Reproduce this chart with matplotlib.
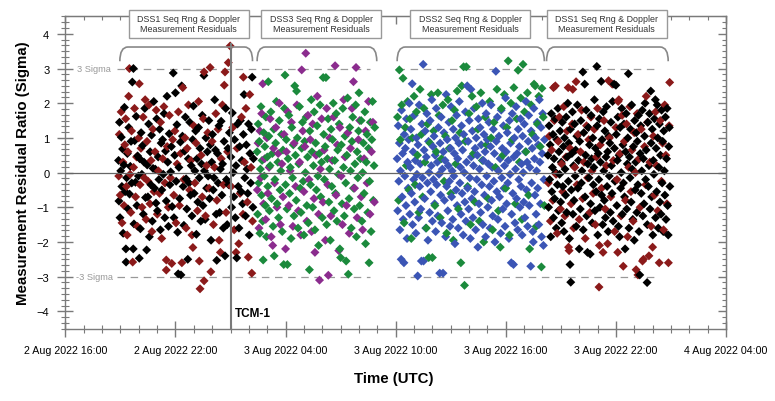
import numpy as np
import matplotlib.pyplot as plt
from matplotlib.patches import Rectangle, PathPatch
from matplotlib.path import Path
from matplotlib.ticker import MultipleLocator

plt.rcParams['font.family'] = ['Liberation Sans', 'DejaVu Sans']

# x values are hours since 2 Aug 2022 00:00 UTC
tick_hours = [16, 22, 28, 34, 40, 46, 52]
tick_labels = ["2 Aug 2022 16:00", "2 Aug 2022 22:00", "3 Aug 2022 04:00",
               "3 Aug 2022 10:00", "3 Aug 2022 16:00", "3 Aug 2022 22:00",
               "4 Aug 2022 04:00"]
tcm1_hour = 25.0

seg_names = ["DSS1 Seq Rng & Doppler\nMeasurement Residuals",
             "DSS3 Seq Rng & Doppler\nMeasurement Residuals",
             "DSS2 Seq Rng & Doppler\nMeasurement Residuals",
             "DSS1 Seq Rng & Doppler\nMeasurement Residuals"]
seg_start = [18.97, 26.45, 34.08, 42.22]
seg_end = [26.2, 32.97, 42.1, 48.85]
seg_label_center = [22.73, 29.94, 38.06, 45.5]
sigma_spans = [(18.8, 32.6), (34.05, 48.3)]

# (hour, residual sigma)
dss1a_black = [
    (18.90, 0.35), (18.92, -0.82), (18.95, 1.45), (18.98, -1.30), (19.02, 0.05), (19.05, 1.02), (19.08, -0.40),
    (19.12, 0.68), (19.15, -1.75), (19.19, 0.22), (19.22, 1.88), (19.26, -0.55), (19.30, -2.20), (19.31, -2.58),
    (19.34, -0.15), (19.38, 0.55), (19.42, -1.05), (19.46, 1.30), (19.50, -0.62), (19.54, 0.18), (19.58, 0.90),
    (19.62, -0.30), (19.65, 2.61), (19.70, -2.20), (19.71, 3.00), (19.74, -1.48), (19.78, 0.92), (19.82, -0.28),
    (19.86, 1.62), (19.90, -0.95), (19.94, 0.48), (19.98, -0.10), (20.03, -2.47), (20.05, 0.40), (20.09, -1.62),
    (20.13, 1.15), (20.17, -0.05), (20.21, 0.78), (20.25, -1.20), (20.29, 0.30), (20.33, 1.85), (20.37, -0.72),
    (20.43, -2.23), (20.46, 0.22), (20.50, -0.70), (20.54, 1.40), (20.58, -1.85), (20.62, 0.60), (20.66, -0.35),
    (20.70, 1.08), (20.74, -1.40), (20.78, 0.12), (20.82, 2.05), (20.86, -0.45), (20.90, 0.10), (20.94, -0.88),
    (20.98, 1.55), (21.02, -1.10), (21.06, 0.45), (21.10, -0.20), (21.14, 1.25), (21.18, -1.65), (21.22, 0.85),
    (21.26, -0.50), (21.30, 0.95), (21.34, -0.05), (21.38, 1.70), (21.42, -1.30), (21.46, 0.62), (21.50, -0.82),
    (21.54, 2.20), (21.58, 0.30), (21.62, -1.55), (21.66, 1.12), (21.70, -0.35), (21.74, 0.02), (21.78, 0.75),
    (21.82, -0.98), (21.88, 2.87), (21.92, -1.30), (21.96, 0.50), (22.00, 2.30), (22.04, -0.25), (22.08, 1.38),
    (22.12, -1.72), (22.15, -2.92), (22.19, 0.15), (22.23, -0.75), (22.27, 0.88), (22.30, -2.95), (22.34, 2.50),
    (22.38, 1.05), (22.42, -0.40), (22.46, -1.52), (22.50, 0.62), (22.54, 1.60), (22.58, -0.18), (22.62, -1.05),
    (22.67, -2.50), (22.70, 0.40), (22.74, -0.30), (22.78, 1.45), (22.82, -0.65), (22.86, 0.20), (22.90, -1.25),
    (22.94, 0.95), (22.98, 1.92), (23.02, -0.60), (23.06, 0.05), (23.10, 1.20), (23.14, -1.78), (23.18, 0.40),
    (23.22, -0.85), (23.26, 1.30), (23.30, -0.15), (23.34, 0.70), (23.38, -1.40), (23.42, 0.25), (23.46, 1.65),
    (23.50, -0.95), (23.55, 2.80), (23.58, 0.05), (23.62, -1.35), (23.66, 1.00), (23.70, -0.45), (23.74, 0.60),
    (23.78, -0.10), (23.82, 1.50), (23.86, -0.75), (23.90, 0.80), (23.94, -1.95), (23.98, 0.30), (24.02, 1.10),
    (24.06, -0.50), (24.10, -0.15), (24.14, 2.10), (24.18, 0.65), (24.22, -1.20), (24.25, -2.53), (24.29, 0.55),
    (24.33, -0.30), (24.37, 1.35), (24.41, -1.15), (24.45, 0.10), (24.49, 1.48), (24.53, -0.65), (24.57, 0.25),
    (24.61, -1.60), (24.65, 0.90), (24.70, -2.40), (24.74, 1.85), (24.78, -0.20), (24.82, -1.50), (24.86, 0.70),
    (24.90, -0.35), (24.94, 1.15), (25.02, 0.45), (25.06, -1.00), (25.10, 1.72), (25.14, 0.00), (25.18, -0.70),
    (25.22, 0.95), (25.26, -1.30), (25.30, 0.20), (25.34, -2.46), (25.38, 1.40), (25.42, -0.40), (25.46, -1.60),
    (25.50, 0.75), (25.54, 1.50), (25.58, -0.55), (25.62, 0.35), (25.66, -0.90), (25.70, 1.10), (25.74, 2.25),
    (25.78, -0.15), (25.82, -1.25), (25.86, 0.80), (25.90, 0.10), (25.94, -0.60), (25.98, 1.40), (26.02, -1.80),
    (26.06, 0.55), (26.10, -0.30), (26.14, 1.25), (26.18, 2.75), (26.22, -1.00), (26.25, 0.40),
]
dss1a_red = [
    (18.91, -0.10), (18.94, 1.10), (18.99, -0.65), (19.04, 1.75), (19.09, -1.45), (19.14, 0.30), (19.20, -0.95),
    (19.24, 0.80), (19.29, 1.55), (19.33, -0.40), (19.37, -1.80), (19.41, 0.60), (19.45, 2.20), (19.49, 3.00),
    (19.53, -0.05), (19.57, -1.15), (19.61, 1.20), (19.67, -2.58), (19.72, 0.15), (19.77, 1.85), (19.83, -0.70),
    (19.88, 0.45), (19.93, -1.55), (20.00, 1.00), (20.03, 2.56), (20.07, -0.35), (20.12, 0.70), (20.18, -1.00),
    (20.24, 1.60), (20.30, -0.15), (20.35, 2.10), (20.40, -1.35), (20.45, 0.90), (20.51, -0.25), (20.56, 1.95),
    (20.61, -0.90), (20.67, 0.35), (20.72, -1.70), (20.77, 1.25), (20.83, -0.55), (20.89, 0.60), (20.95, 1.80),
    (21.01, -1.20), (21.07, 0.05), (21.13, -0.60), (21.19, 1.45), (21.25, -1.90), (21.31, 0.40), (21.37, 1.90),
    (21.43, -0.30), (21.50, -2.52), (21.50, -2.81), (21.55, 0.75), (21.61, -1.00), (21.67, 1.65), (21.73, -0.15),
    (21.80, -2.62), (21.85, 0.95), (21.91, -0.65), (21.97, 1.20), (22.03, -1.45), (22.09, 0.25), (22.16, 1.75),
    (22.22, -0.95), (22.28, 0.55), (22.35, -2.60), (22.40, 2.45), (22.45, -0.20), (22.52, 1.00), (22.58, -1.60),
    (22.64, 0.70), (22.71, 1.95), (22.77, -0.50), (22.84, 0.35), (22.90, -1.80), (22.95, -2.16), (23.00, 1.35),
    (23.06, -0.30), (23.12, 0.85), (23.20, -1.10), (23.26, 2.05), (23.30, -2.55), (23.34, -3.35), (23.40, 0.50),
    (23.46, -0.70), (23.52, 1.55), (23.56, 2.90), (23.56, -3.12), (23.64, -1.25), (23.70, 0.20), (23.76, 1.15),
    (23.84, -0.45), (23.89, 3.03), (23.93, -2.86), (24.00, 0.90), (24.07, -1.50), (24.13, 0.15), (24.20, 1.70),
    (24.26, -0.80), (24.32, 1.25), (24.38, -1.95), (24.45, -2.30), (24.50, 0.40), (24.56, 1.95), (24.62, -0.35),
    (24.66, 2.52), (24.70, 2.90), (24.76, -1.15), (24.84, 0.60), (24.88, 3.17), (24.98, 3.65), (25.04, -0.40),
    (25.12, 1.30), (25.20, -1.65), (25.30, -2.30), (25.36, 0.70), (25.45, -2.05), (25.52, -0.60), (25.60, 1.60),
    (25.68, -1.20), (25.70, 2.75), (25.76, 0.30), (25.84, 1.85), (25.92, -0.85), (25.97, -2.44), (26.05, 2.25),
    (26.12, 0.15), (26.16, -2.90), (26.20, -1.40),
]
dss3_green = [
    (26.45, 0.60), (26.48, -1.20), (26.51, 1.40), (26.54, -0.30), (26.57, 0.90), (26.60, -1.75), (26.63, 0.10),
    (26.66, 1.90), (26.69, -0.65), (26.72, 0.35), (26.75, -1.40), (26.78, -2.52), (26.81, 1.15), (26.84, -0.10),
    (26.87, 0.75), (26.90, -0.95), (26.93, 1.60), (26.96, -1.85), (27.00, 0.45), (27.03, -0.40), (27.06, 2.62),
    (27.09, 1.05), (27.12, -1.10), (27.16, 0.20), (27.20, 1.75), (27.24, -0.75), (27.28, 0.55), (27.32, -1.55),
    (27.36, 1.25), (27.38, -2.40), (27.42, -0.20), (27.46, 0.85), (27.50, 2.05), (27.54, -0.90), (27.58, 0.30),
    (27.62, -1.30), (27.66, 1.50), (27.70, -0.50), (27.74, 0.05), (27.78, 1.10), (27.82, -1.70), (27.86, 0.65),
    (27.90, -2.65), (27.94, 1.85), (27.97, 2.81), (28.00, -0.35), (28.04, 0.95), (28.08, -1.05), (28.10, -2.65),
    (28.14, 0.40), (28.18, 1.65), (28.22, -0.60), (28.26, 0.15), (28.30, -1.90), (28.34, 1.30), (28.38, -0.15),
    (28.42, 0.80), (28.46, -1.25), (28.50, 2.50), (28.54, 0.50), (28.58, -0.80), (28.60, 2.35), (28.64, 1.00),
    (28.68, -1.60), (28.72, 0.25), (28.76, 1.90), (28.80, -0.45), (28.84, -1.15), (28.88, 0.70), (28.92, 1.45),
    (28.96, -0.25), (29.00, -1.80), (29.04, 0.90), (29.08, 0.00), (29.12, 1.60), (29.16, -0.95), (29.20, 0.45),
    (29.24, -1.45), (29.30, -2.80), (29.32, 1.20), (29.36, -0.35), (29.40, 2.10), (29.44, 0.60), (29.48, -1.00),
    (29.52, 0.20), (29.56, 1.75), (29.60, -1.65), (29.64, 0.85), (29.68, -0.50), (29.72, 1.35), (29.76, -0.10),
    (29.80, -2.10), (29.84, 0.55), (29.88, 1.95), (29.92, -0.70), (29.96, 0.30), (30.00, -1.30), (30.05, 2.74),
    (30.08, 1.10), (30.12, -0.20), (30.16, 0.75), (30.20, 2.74), (30.24, -1.50), (30.28, 0.40), (30.32, 1.55),
    (30.36, -0.85), (30.40, 0.10), (30.44, -1.95), (30.48, 1.25), (30.52, -0.40), (30.56, 0.95), (30.60, 2.00),
    (30.64, -1.10), (30.68, 0.35), (30.72, -0.60), (30.76, 1.70), (30.80, -1.40), (30.84, 0.65), (30.88, -0.05),
    (30.92, 1.40), (30.96, -2.20), (31.00, -2.45), (31.04, 0.80), (31.08, -0.90), (31.12, 1.85), (31.16, 0.15),
    (31.20, -1.25), (31.24, 1.05), (31.28, -0.30), (31.30, -2.55), (31.34, 0.50), (31.38, 2.15), (31.42, -2.93),
    (31.46, -0.75), (31.50, 1.30), (31.54, 0.05), (31.58, -1.60), (31.62, 0.90), (31.66, 1.60), (31.70, -0.45),
    (31.74, -1.05), (31.78, 0.25), (31.82, 1.95), (31.86, -1.85), (31.90, 0.60), (31.94, -0.15), (31.98, 1.20),
    (32.00, 2.30), (32.04, -0.95), (32.08, 0.40), (32.12, 1.50), (32.16, -1.40), (32.20, 0.00), (32.24, 0.85),
    (32.28, -0.60), (32.32, 1.75), (32.36, -2.05), (32.40, 0.30), (32.44, 1.10), (32.48, -1.15), (32.52, 0.70),
    (32.55, -2.60), (32.58, -0.25), (32.62, 1.45), (32.66, -1.70), (32.70, 0.95), (32.74, 2.05), (32.78, -0.80),
    (32.82, 0.20), (32.86, 1.30),
]
dss3_purple = [
    (26.46, -0.50), (26.50, 0.85), (26.55, -1.60), (26.60, 1.20), (26.65, -0.15), (26.70, 1.70), (26.76, 2.56),
    (26.80, -0.90), (26.86, 0.40), (26.92, -1.35), (26.98, 1.00), (27.04, -0.60), (27.10, 0.15), (27.16, 1.55),
    (27.22, -1.85), (27.30, -2.10), (27.34, 0.70), (27.40, -0.30), (27.47, 1.30), (27.53, -1.00), (27.60, 0.55),
    (27.66, 2.00), (27.72, -1.50), (27.80, 0.25), (27.86, -0.70), (27.92, 1.10), (28.00, -2.20), (28.05, 0.60),
    (28.12, 1.75), (28.18, -0.95), (28.25, 0.05), (28.32, 1.45), (28.40, -1.55), (28.47, 0.85), (28.55, -0.40),
    (28.62, 1.95), (28.70, -1.10), (28.77, 0.30), (28.83, -1.80), (28.88, 2.96), (28.94, 1.20), (29.00, -0.55),
    (29.05, 0.75), (29.10, 3.44), (29.16, -1.40), (29.22, 1.65), (29.28, -0.20), (29.35, 0.95), (29.42, -1.70),
    (29.48, 1.40), (29.55, -0.75), (29.60, -2.30), (29.66, 0.50), (29.73, 2.20), (29.80, -1.20), (29.85, -3.10),
    (29.90, 0.10), (29.97, 1.55), (30.04, -0.85), (30.10, 0.65), (30.17, -1.95), (30.24, 1.85), (30.30, -0.35),
    (30.33, -2.96), (30.40, 1.00), (30.47, -1.25), (30.54, 0.35), (30.62, 1.60), (30.70, 3.08), (30.75, -0.65),
    (30.82, 0.80), (30.90, -2.25), (30.96, 1.30), (31.03, -0.10), (31.10, -1.50), (31.17, 2.10), (31.24, 0.45),
    (31.32, -0.95), (31.40, 1.15), (31.47, -1.75), (31.54, 0.70), (31.62, 1.85), (31.70, 2.62), (31.76, -0.45),
    (31.84, 3.03), (31.90, -1.30), (31.97, 0.95), (32.04, 1.50), (32.12, -0.70), (32.20, -1.65), (32.28, 0.40),
    (32.36, 1.20), (32.44, -0.30), (32.52, 2.05), (32.60, -1.20), (32.68, 0.60), (32.76, 1.45), (32.84, -0.85),
]
dss2_blue = [
    (34.08, 0.40), (34.11, -1.10), (34.14, 1.35), (34.17, -0.25), (34.20, 0.85), (34.23, -1.65), (34.26, 0.05),
    (34.30, -2.50), (34.32, 1.80), (34.35, -0.70), (34.38, 0.55), (34.41, -1.35), (34.45, -2.60), (34.47, 1.10),
    (34.50, -0.10), (34.53, 0.70), (34.56, -0.95), (34.59, 1.55), (34.62, -1.90), (34.65, 0.30), (34.68, -0.45),
    (34.71, 0.95), (34.74, 2.00), (34.77, -1.20), (34.80, 0.15), (34.83, 1.25), (34.86, -0.60), (34.90, 2.56),
    (34.92, -1.50), (34.95, 0.60), (34.98, -0.20), (35.01, 1.65), (35.04, -0.85), (35.07, 0.35), (35.10, -1.75),
    (35.13, 1.00), (35.16, -0.05), (35.20, -2.98), (35.22, 0.80), (35.25, -1.30), (35.28, 1.95), (35.31, -0.40),
    (35.34, 0.25), (35.37, -1.05), (35.40, -2.55), (35.43, 1.40), (35.46, -0.15), (35.50, 3.12), (35.52, -2.55),
    (35.55, 0.65), (35.58, -0.75), (35.61, 1.20), (35.64, -1.60), (35.67, 0.45), (35.70, 1.70), (35.73, -0.30),
    (35.76, -1.95), (35.79, 0.90), (35.82, 0.00), (35.85, -1.15), (35.88, 1.50), (35.91, -0.55), (35.94, 0.20),
    (35.97, 2.10), (36.00, -1.40), (36.03, 0.75), (36.06, -0.20), (36.09, 1.05), (36.12, -0.90), (36.15, 0.50),
    (36.18, -1.70), (36.21, 1.85), (36.24, -0.35), (36.27, 0.30), (36.30, -1.25), (36.33, 1.30), (36.36, -0.05),
    (36.40, -2.90), (36.42, 0.85), (36.45, -0.65), (36.48, 1.60), (36.51, -1.45), (36.54, 0.10), (36.58, -2.90),
    (36.60, 0.60), (36.63, 1.15), (36.66, -0.80), (36.69, 0.35), (36.72, -1.85), (36.75, 2.25), (36.78, -0.40),
    (36.81, 0.95), (36.84, -1.10), (36.87, 0.20), (36.90, 1.45), (36.93, -0.25), (36.96, -1.55), (36.99, 0.70),
    (37.02, 1.90), (37.05, -0.70), (37.08, 0.05), (37.11, -1.35), (37.14, 1.25), (37.17, -0.10), (37.20, 0.55),
    (37.23, -2.05), (37.26, 1.00), (37.29, -0.50), (37.32, 1.65), (37.35, -0.95), (37.38, 0.40), (37.41, -1.60),
    (37.44, 0.85), (37.47, 2.05), (37.50, -0.30), (37.53, 0.15), (37.56, -1.20), (37.59, 1.35), (37.62, -0.60),
    (37.65, 0.65), (37.68, -1.80), (37.71, 1.10), (37.74, 0.00), (37.77, -0.85), (37.80, 1.75), (37.83, -1.40),
    (37.86, 0.30), (37.90, 2.50), (37.92, -0.45), (37.95, 0.90), (37.98, -1.05), (38.01, 1.50), (38.04, -0.15),
    (38.07, -1.90), (38.10, 2.40), (38.12, 0.45), (38.15, -0.75), (38.18, 1.20), (38.21, -1.30), (38.24, 0.20),
    (38.27, 1.85), (38.30, -0.55), (38.33, 0.70), (38.36, -1.65), (38.39, 1.00), (38.42, -0.20), (38.45, 0.50),
    (38.48, -2.15), (38.51, 1.55), (38.54, -0.90), (38.57, 0.10), (38.60, 1.30), (38.63, -1.15), (38.66, 0.80),
    (38.69, -0.35), (38.72, 2.00), (38.75, -1.50), (38.78, 0.35), (38.81, 1.10), (38.84, -0.65), (38.87, 0.60),
    (38.90, -1.85), (38.93, 1.70), (38.96, -0.10), (38.99, 0.95), (39.02, -1.00), (39.05, 0.25), (39.08, 1.45),
    (39.11, -0.40), (39.14, -1.60), (39.17, 0.75), (39.20, 1.95), (39.23, -0.80), (39.26, 0.15), (39.29, -1.25),
    (39.32, 1.25), (39.35, -0.25), (39.38, 0.55), (39.41, -2.00), (39.46, 2.92), (39.48, 0.90), (39.51, -0.55),
    (39.54, 1.60), (39.57, -1.35), (39.60, 0.05), (39.63, 1.05), (39.66, -0.70), (39.69, 0.40), (39.72, -1.75),
    (39.75, 1.80), (39.78, -0.15), (39.81, 0.70), (39.84, -1.05), (39.87, 1.35), (39.90, -0.45), (39.93, 0.20),
    (39.96, -1.55), (39.99, 2.15), (40.02, 0.60), (40.05, -0.90), (40.08, 1.15), (40.11, -0.30), (40.14, 0.35),
    (40.17, -1.90), (40.20, 1.50), (40.23, -0.05), (40.26, 0.85), (40.30, -2.60), (40.32, -1.20), (40.35, 1.70),
    (40.38, -0.60), (40.42, -2.65), (40.44, 0.45), (40.47, 1.00), (40.50, -1.45), (40.53, 0.10), (40.56, 1.90),
    (40.59, -0.75), (40.62, 0.55), (40.65, -1.65), (40.68, 1.25), (40.71, -0.20), (40.74, 0.75), (40.77, -1.00),
    (40.80, 1.55), (40.83, -0.40), (40.86, 0.25), (40.89, -1.80), (40.92, 1.05), (40.95, 0.00), (40.98, -0.85),
    (41.01, 1.40), (41.04, -1.30), (41.07, 0.60), (41.10, 2.05), (41.13, -0.50), (41.16, 0.30), (41.19, -1.55),
    (41.22, 0.90), (41.25, 1.65), (41.28, -0.95), (41.31, 0.15), (41.36, -2.70), (41.38, 1.20), (41.41, -0.30),
    (41.44, 0.70), (41.47, -1.70), (41.50, -2.00), (41.53, 1.85), (41.56, 0.40), (41.59, -0.65), (41.62, 1.00),
    (41.65, -1.20), (41.68, 0.05), (41.71, 1.45), (41.74, -0.45), (41.77, 0.80), (41.80, -1.50), (41.83, 2.10),
    (41.86, 0.30), (41.89, -0.90), (41.92, 1.30), (41.95, -1.85), (41.98, 0.55), (42.01, 1.70), (42.05, -2.10),
    (42.08, -0.20), (42.11, 0.95),
]
dss2_green = [
    (34.10, 1.60), (34.16, -0.80), (34.20, 2.96), (34.26, 0.95), (34.33, 1.95), (34.40, 2.72), (34.46, -1.45),
    (34.52, 1.30), (34.58, 0.20), (34.65, 2.05), (34.72, -0.50), (34.78, 1.55), (34.85, -1.90), (34.91, 1.00),
    (35.00, 2.20), (35.06, -0.35), (35.13, 1.75), (35.19, 0.50), (35.26, -1.15), (35.33, 2.40), (35.40, 1.10),
    (35.47, -0.70), (35.54, 1.85), (35.60, 0.30), (35.67, -1.60), (35.74, 1.40), (35.80, -2.45), (35.87, 0.85),
    (35.94, 2.25), (36.00, -2.45), (36.07, 1.20), (36.14, -0.95), (36.21, 0.60), (36.30, 2.30), (36.36, 1.65),
    (36.43, -1.30), (36.50, 0.40), (36.57, 1.95), (36.64, -0.25), (36.71, 1.05), (36.78, -1.75), (36.85, 2.10),
    (36.92, 0.70), (37.00, -0.60), (37.07, 1.50), (37.14, -1.95), (37.21, 1.80), (37.28, 0.25), (37.35, 2.35),
    (37.42, -1.05), (37.50, 1.15), (37.55, -2.60), (37.60, 2.50), (37.70, 3.05), (37.75, -3.25), (37.80, 0.90),
    (37.85, 3.05), (37.92, -0.40), (38.00, 1.70), (38.08, -1.50), (38.16, 2.20), (38.24, 0.55), (38.32, -0.85),
    (38.40, 1.90), (38.48, 1.25), (38.56, -1.40), (38.64, 2.30), (38.72, 0.35), (38.80, -2.00), (38.88, 1.60),
    (38.96, 0.80), (39.04, -0.75), (39.12, 2.05), (39.20, 1.00), (39.28, -1.65), (39.36, 1.45), (39.44, 0.15),
    (39.52, 2.40), (39.60, -1.10), (39.70, -2.15), (39.76, 1.85), (39.84, 0.50), (39.92, 2.25), (40.00, -0.45),
    (40.06, 1.30), (40.13, 3.22), (40.20, -1.80), (40.28, 2.00), (40.36, 0.95), (40.44, 2.45), (40.52, -0.90),
    (40.60, 1.55), (40.67, 2.95), (40.74, 0.30), (40.82, 2.15), (40.88, -1.35), (40.94, 3.12), (41.02, 1.75),
    (41.10, 0.60), (41.18, 2.30), (41.24, -0.65), (41.30, -2.20), (41.38, 1.95), (41.46, 1.10), (41.54, 2.55),
    (41.60, 2.50), (41.66, -1.55), (41.72, 1.40), (41.80, 2.20), (41.88, 0.75), (41.94, -2.72), (41.97, 2.43),
    (42.04, 1.60), (42.10, -0.95),
]
dss1b_black = [
    (42.30, 0.50), (42.33, -1.00), (42.36, 1.35), (42.39, -0.20), (42.42, 0.80), (42.45, -1.85), (42.48, 1.70),
    (42.51, -0.55), (42.54, 0.15), (42.57, 1.10), (42.60, -1.30), (42.63, 0.40), (42.66, -0.75), (42.69, 1.55),
    (42.72, 0.00), (42.75, -1.60), (42.78, 0.95), (42.81, -0.35), (42.84, 1.85), (42.87, -1.10), (42.90, 0.60),
    (42.93, -0.05), (42.96, 1.20), (42.99, -0.85), (43.02, 0.30), (43.05, -1.45), (43.08, 1.45), (43.11, -0.40),
    (43.14, 0.75), (43.17, -1.70), (43.20, 1.00), (43.23, 0.10), (43.26, -0.65), (43.29, 1.60), (43.32, -1.15),
    (43.35, 0.45), (43.38, 2.00), (43.41, -0.25), (43.44, 0.85), (43.47, -1.90), (43.50, -2.65), (43.52, 1.25),
    (43.54, -3.16), (43.57, -0.50), (43.60, 0.55), (43.63, 1.75), (43.66, -1.20), (43.69, 0.20), (43.72, -0.80),
    (43.75, 1.40), (43.78, -0.10), (43.81, 0.65), (43.84, -1.55), (43.87, 1.05), (43.90, 1.95), (43.93, -0.45),
    (43.96, 0.35), (44.00, -2.20), (44.03, 0.90), (44.06, -1.05), (44.09, 1.50), (44.12, -0.30), (44.15, 0.05),
    (44.20, 2.90), (44.22, -1.65), (44.25, 1.15), (44.30, 2.55), (44.32, -0.70), (44.35, 0.50), (44.38, 1.80),
    (44.41, -1.25), (44.45, -2.30), (44.47, 0.25), (44.50, 1.30), (44.53, -0.15), (44.56, 0.80), (44.60, -2.35),
    (44.62, -0.90), (44.65, 1.65), (44.68, 0.40), (44.71, -1.45), (44.74, 1.00), (44.77, -0.35), (44.80, 0.15),
    (44.83, 2.10), (44.86, -1.10), (44.89, 0.70), (44.92, -0.55), (44.96, 3.06), (44.98, 1.35), (45.01, -1.80),
    (45.04, 0.55), (45.07, -0.20), (45.10, 1.55), (45.13, -1.00), (45.16, 0.30), (45.20, 2.63), (45.22, -0.65),
    (45.25, 0.95), (45.28, -1.50), (45.31, 1.75), (45.34, 0.05), (45.37, -0.80), (45.40, 1.20), (45.43, -1.30),
    (45.46, 0.45), (45.49, 1.90), (45.52, -0.40), (45.55, 0.60), (45.58, -1.70), (45.61, 1.05), (45.64, -0.10),
    (45.67, 0.85), (45.70, -1.15), (45.73, 1.45), (45.76, 0.20), (45.79, -0.60), (45.82, 2.05), (45.85, -1.40),
    (45.90, 2.55), (45.92, 0.70), (45.95, -0.25), (46.00, 2.52), (46.02, 1.10), (46.05, -0.95), (46.08, 0.35),
    (46.11, 1.60), (46.14, -1.55), (46.17, 0.50), (46.20, -1.85), (46.23, 1.30), (46.26, -0.45), (46.29, 0.00),
    (46.32, 1.85), (46.35, -1.20), (46.38, 0.80), (46.41, -0.30), (46.44, 1.40), (46.47, -0.70), (46.50, -2.20),
    (46.53, 0.60), (46.56, 1.70), (46.59, -1.05), (46.62, 0.25), (46.65, 1.00), (46.68, 2.85), (46.71, -1.60),
    (46.74, 0.45), (46.77, -0.15), (46.80, 1.25), (46.83, -0.85), (46.86, 1.95), (46.89, 0.10), (46.92, -1.35),
    (46.95, 0.75), (47.00, -1.95), (47.02, 1.50), (47.05, -0.50), (47.08, 0.30), (47.11, 1.15), (47.14, -1.15),
    (47.17, 0.90), (47.20, -0.35), (47.23, 1.65), (47.26, -1.70), (47.30, -2.95), (47.32, 0.55), (47.35, 1.35),
    (47.38, -0.60), (47.41, 0.05), (47.44, 1.80), (47.47, -1.25), (47.50, 0.40), (47.53, -0.90), (47.56, 1.05),
    (47.59, 2.00), (47.62, -0.20), (47.65, 0.65), (47.70, -3.17), (47.71, -1.50), (47.74, 1.45), (47.77, -0.40),
    (47.80, 0.20), (47.83, 1.70), (47.86, -1.05), (47.90, 2.35), (47.92, 0.85), (47.95, -0.70), (47.98, 1.25),
    (48.01, -1.80), (48.04, 0.35), (48.07, -0.05), (48.10, 1.55), (48.15, 2.10), (48.16, -1.30), (48.19, 0.70),
    (48.22, -0.55), (48.25, 1.95), (48.28, 1.00), (48.31, -1.60), (48.34, 0.15), (48.37, 1.40), (48.40, -0.85),
    (48.43, 0.50), (48.46, -1.20), (48.49, 1.80), (48.52, -0.30), (48.55, 0.90), (48.58, -1.70), (48.61, 1.20),
    (48.64, 0.05), (48.67, -0.65), (48.70, 1.60), (48.73, -1.35), (48.76, 0.40), (48.79, 1.85), (48.82, -0.95),
    (48.85, -1.80), (48.88, 0.75), (48.91, 1.30), (48.94, -0.40),
]
dss1b_red = [
    (42.32, -0.30), (42.37, 1.05), (42.43, -1.40), (42.50, 0.65), (42.56, -0.80), (42.60, 2.45), (42.64, 1.50),
    (42.70, 2.50), (42.74, -0.05), (42.80, -1.75), (42.86, 0.90), (42.92, 1.60), (42.98, -1.05), (43.04, 0.25),
    (43.10, -0.55), (43.16, 1.90), (43.22, -1.25), (43.28, 0.45), (43.34, 1.20), (43.40, 2.45), (43.42, -2.15),
    (43.45, -2.25), (43.50, 0.70), (43.56, -0.90), (43.62, 1.40), (43.65, 2.40), (43.70, -1.60), (43.76, 0.15),
    (43.83, 2.62), (43.88, -0.35), (43.94, 1.10), (44.00, -1.35), (44.07, 0.60), (44.13, 1.80), (44.19, -0.75),
    (44.26, 0.30), (44.33, -1.90), (44.40, 1.35), (44.46, -0.15), (44.52, 0.95), (44.58, -1.15), (44.64, 1.60),
    (44.70, 0.05), (44.76, -0.60), (44.82, 1.25), (44.88, -1.50), (44.94, 0.45), (45.00, 1.85), (45.08, -3.30),
    (45.10, -2.10), (45.15, 0.80), (45.22, -0.45), (45.30, -2.30), (45.35, 1.50), (45.42, -1.05), (45.48, 0.20),
    (45.55, -2.05), (45.60, 2.65), (45.65, 1.00), (45.72, -0.70), (45.80, 2.55), (45.86, 0.35), (45.93, -1.70),
    (46.00, 1.30), (46.06, -0.20), (46.10, -2.30), (46.12, 2.05), (46.16, 2.10), (46.22, 0.55), (46.28, -1.25),
    (46.34, 1.65), (46.40, -2.70), (46.46, 0.90), (46.52, -0.80), (46.58, 1.40), (46.64, -1.85), (46.70, 0.15),
    (46.76, 1.90), (46.82, -0.55), (46.88, 0.65), (46.94, -1.40), (47.00, 1.15), (47.06, 0.00), (47.10, -2.80),
    (47.16, 1.70), (47.20, -2.95), (47.26, 0.40), (47.32, -1.00), (47.38, 1.25), (47.45, -2.55), (47.50, -2.50),
    (47.56, 0.75), (47.62, -0.35), (47.65, 2.20), (47.72, 1.45), (47.80, -2.40), (47.85, 0.30), (47.92, -1.55),
    (48.00, -2.15), (48.04, 1.05), (48.10, -0.65), (48.16, 1.75), (48.22, 0.20), (48.28, -1.10), (48.36, -2.60),
    (48.42, 1.50), (48.48, -0.25), (48.54, 0.85), (48.60, -1.65), (48.66, 1.95), (48.72, 0.50), (48.78, -0.90),
    (48.86, -2.60), (48.90, 1.35), (48.93, 2.60),
]

BLACK = '#000000'
RED = '#8b1a1a'
GREEN = '#1b8a3c'
PURPLE = '#8b2c8e'
BLUE = '#3b55b5'
GRAY = '#7a7a7a'

segments = [
    [(dss1a_black, BLACK), (dss1a_red, RED)],
    [(dss3_purple, PURPLE), (dss3_green, GREEN)],
    [(dss2_green, GREEN), (dss2_blue, BLUE)],
    [(dss1b_red, RED), (dss1b_black, BLACK)],
]

fig = plt.figure(figsize=(7.75, 4.02), dpi=100)
ax = fig.add_axes([0.0843, 0.1799, 0.8525, 0.7766])
ax.set_xlim(16, 52)
ax.set_ylim(-4.5, 4.5)

# scatter, interleaving the two stations in time order
for series in segments:
    t_all, s_all, c_all = [], [], []
    for pts, col in series:
        arr = np.array(pts)
        t_all.extend(arr[:, 0])
        s_all.extend(arr[:, 1])
        c_all.extend([col] * len(arr))
    order = np.argsort(t_all, kind='stable')
    ax.scatter(np.array(t_all)[order], np.array(s_all)[order],
               c=np.array(c_all)[order], marker='D', s=21, linewidths=0, zorder=2)

# reference lines
ax.axhline(0, color='#666666', lw=0.9, zorder=3)
for x0, x1 in sigma_spans:
    for lvl in (3, -3):
        ax.plot([x0, x1], [lvl, lvl], color='#999999', lw=0.9, dashes=(6, 4.5), zorder=1)
ax.text(16.62, 3, "3 Sigma", fontsize=6.7, color='#999999', va='center', ha='left')
ax.text(16.58, -3, "-3 Sigma", fontsize=6.7, color='#999999', va='center', ha='left')

ax.plot([tcm1_hour, tcm1_hour], [-4.5, 3.7], color=GRAY, lw=1.5, zorder=3, clip_on=False)
ax.text(tcm1_hour + 0.25, -4.04, "TCM-1", fontsize=8.5, fontweight='bold', va='center', ha='left')

# brackets and station boxes
dx, y_lo, y_hi = 0.44, 3.21, 3.62
for x0, x1, xc, name in zip(seg_start, seg_end, seg_label_center, seg_names):
    verts = [(x0, y_lo), (x0, y_hi), (x0 + dx, y_hi), (x1 - dx, y_hi), (x1, y_hi), (x1, y_lo)]
    codes = [Path.MOVETO, Path.CURVE3, Path.CURVE3, Path.LINETO, Path.CURVE3, Path.CURVE3]
    ax.add_patch(PathPatch(Path(verts, codes), fill=False, edgecolor='#888888', lw=1.2, clip_on=False, zorder=4))
    ax.add_patch(Rectangle((xc - 3.27, 3.88), 6.54, 0.82, facecolor='white', edgecolor='#999999',
                           lw=1, clip_on=False, zorder=5))
    ax.text(xc, 4.29, name, fontsize=6.4, color='#333333', ha='center', va='center',
            linespacing=1.2, zorder=6)

# axes and ticks
for sp in ax.spines.values():
    sp.set_color(GRAY)
    sp.set_linewidth(1)
ax.set_xticks(tick_hours, tick_labels)
ax.xaxis.set_minor_locator(MultipleLocator(1))
ax.yaxis.set_major_locator(MultipleLocator(1))
ax.yaxis.set_minor_locator(MultipleLocator(1 / 6))
ax.tick_params(which='major', direction='inout', length=11, width=1, color=GRAY, labelsize=7.7)
ax.tick_params(which='minor', direction='inout', length=6, width=0.8, color=GRAY)
ax.tick_params(axis='x', pad=6.5)
ax.tick_params(axis='y', pad=6, labelsize=8)

top = ax.secondary_xaxis('top')
top.set_xticks(tick_hours)
top.xaxis.set_minor_locator(MultipleLocator(1))
top.tick_params(which='major', direction='in', length=6, width=1, color=GRAY, labeltop=False)
top.tick_params(which='minor', direction='in', length=3, width=0.8, color=GRAY)
top.spines['top'].set_color(GRAY)

right = ax.secondary_yaxis('right')
right.yaxis.set_major_locator(MultipleLocator(1))
right.yaxis.set_minor_locator(MultipleLocator(1 / 6))
right.tick_params(which='major', direction='in', length=6, width=1, color=GRAY, labelright=False)
right.tick_params(which='minor', direction='in', length=3, width=0.8, color=GRAY)
right.spines['right'].set_color(GRAY)

fig.text(394 / 775, 1 - 379 / 402, "Time (UTC)", fontsize=10.8, fontweight='bold', ha='center', va='center')
fig.text(22.7 / 775, 1 - 173 / 402, "Measurement Residual Ratio (Sigma)", fontsize=10.8,
         fontweight='bold', ha='center', va='center', rotation=90)

fig.savefig('out.png', dpi=100)
